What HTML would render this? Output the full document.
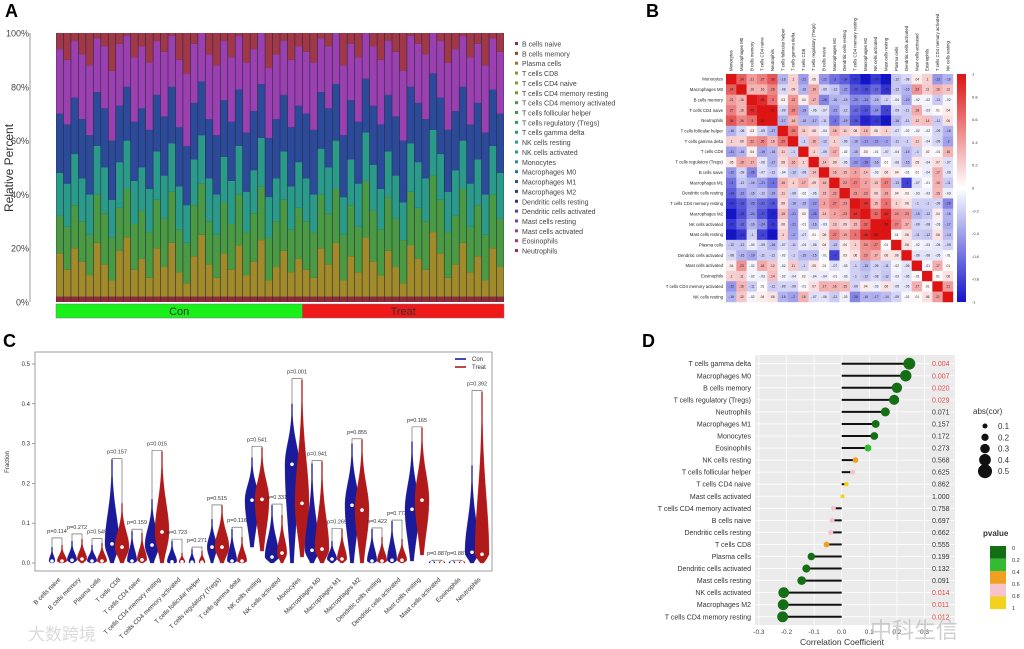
<!DOCTYPE html>
<html><head><meta charset="utf-8"><style>
html,body{margin:0;padding:0;background:#fff;}
svg{display:block;font-family:"Liberation Sans","Noto Sans CJK SC",sans-serif;}
</style></head><body>
<svg id="fig" width="1024" height="649" viewBox="0 0 1024 649">
<text x="5" y="17" font-size="18" font-weight="bold">A</text>
<text x="646" y="17" font-size="18" font-weight="bold">B</text>
<text x="3" y="347" font-size="18" font-weight="bold">C</text>
<text x="642" y="347" font-size="18" font-weight="bold">D</text>
<g id="pa"></g>
<g id="pb"></g>
<g id="pc"></g>
<g id="pd"></g>
<text x="870" y="638" font-size="22" fill="#bbb" opacity="0.7">中科生信</text>
<text x="28" y="640" font-size="17" fill="#ccc" opacity="0.7">大数跨境</text>
</svg>
<script>
const NS="http://www.w3.org/2000/svg";
function mk(p,tag,attrs,txt){const e=document.createElementNS(NS,tag);for(const k in attrs)e.setAttribute(k,attrs[k]);if(txt!==undefined)e.textContent=txt;p.appendChild(e);return e;}

/* ---------- Panel A data ---------- */
const aGroups=["Con","Treat"];
const aConCount=33;
const aB1=[18,12,20,15,10,22,14,8,19,24,12,16,9,20,13,22,11,7,17,25,14,9,18,12,21,10,15,23,8,13,19,11,16,12,9,20,14,22,8,17,11,24,15,10,19,13,7,21,16,12,26,18,9,14,22,11,17,8,20,13];
const aB2=[32,28,36,30,25,40,33,24,35,42,29,34,26,38,31,41,27,22,36,44,30,25,37,29,40,26,33,43,24,30,38,27,35,30,26,40,33,42,25,36,28,45,34,27,39,31,23,41,35,30,47,38,26,32,42,28,36,25,40,31];
const aB3=[48,44,55,46,40,58,50,38,52,60,45,50,42,56,47,59,43,36,53,62,46,40,54,45,58,41,49,61,39,46,56,43,52,46,40,57,50,60,39,53,44,63,51,42,56,47,37,59,52,46,64,55,41,49,60,44,53,40,58,48];
const aB4=[70,66,76,68,62,78,72,60,73,80,67,72,64,77,69,80,65,58,74,82,68,62,75,67,79,63,71,81,61,68,77,65,73,70,64,78,72,81,62,75,67,83,73,66,77,69,60,80,74,68,85,76,64,71,80,66,74,63,79,70];
const aB5=[94,90,97,92,88,98,95,86,96,99,91,95,89,97,93,99,90,85,96,100,92,88,97,91,99,89,94,100,87,92,97,90,95,93,89,98,95,100,88,96,91,100,95,90,97,93,86,99,96,92,100,97,89,94,99,91,96,88,98,93];
const aTicks=["0%","20%","40%","60%","80%","100%"];
const aLegend=["B cells naive","B cells memory","Plasma cells","T cells CD8","T cells CD4 naive","T cells CD4 memory resting","T cells CD4 memory activated","T cells follicular helper","T cells regulatory (Tregs)","T cells gamma delta","NK cells resting","NK cells activated","Monocytes","Macrophages M0","Macrophages M1","Macrophages M2","Dendritic cells resting","Dendritic cells activated","Mast cells resting","Mast cells activated","Eosinophils","Neutrophils"];
const aLegCol=["#8e2a4a","#9a4030","#9a7a2a","#96902a","#8a9a2a","#6a9a30","#4a9a3a","#3a9a48","#2e9a5e","#2a9a74","#2a9a8a","#2a98a0","#2a88a8","#2a70a8","#2a50a0","#2a3a98","#3a3098","#5a3aa8","#7a3aaa","#9a3aa8","#a03a80","#a03050"];
(function(){
const g=document.getElementById('pa');
const X0=56,X1=504,Y0=302,Y1=33;
const ys=v=>Y0-(v/100)*(Y0-Y1);
mk(g,'text',{x:13,y:168,'font-size':12,fill:'#333','text-anchor':'middle',transform:'rotate(-90 13 168)',},'Relative Percent');
mk(g,'line',{x1:30,y1:Y1,x2:30,y2:Y0,stroke:'#999','stroke-width':1,});
aTicks.forEach((t,i)=>{const e=mk(g,'text',{x:29,y:ys(i*20)+3.5,'font-size':9,fill:'#444','text-anchor':'end'},t);

});
const n=aB1.length,w=(X1-X0)/n;
mk(g,'rect',{x:X0,y:Y1,width:X1-X0,height:Y0-Y1,fill:'#2a2a3a'});
const cols=["#8e2a3a","#a08a2a","#4a9a44","#2a9a8a","#2c4a9a","#9a40b0","#a03848"];
for(let i=0;i<n;i++){
 const bnd=[0,2,aB1[i],aB2[i],aB3[i],aB4[i],aB5[i],100];
 for(let k=0;k<7;k++){
  const r=mk(g,'rect',{x:X0+i*w+0.3,y:ys(bnd[k+1]),width:w-0.6,height:Math.max(0,ys(bnd[k])-ys(bnd[k+1])),fill:cols[k]});
  
  
 }
}
const xs=X0+aConCount*w;
mk(g,'rect',{x:X0,y:304,width:xs-X0,height:14,fill:'#19f019',stroke:'#777','stroke-width':0.5,});
mk(g,'rect',{x:xs,y:304,width:X1-xs,height:14,fill:'#f01919',stroke:'#777','stroke-width':0.5,});
mk(g,'text',{x:(X0+xs)/2,y:315,'font-size':11,'text-anchor':'middle',fill:'#333',},aGroups[0]);
mk(g,'text',{x:(xs+X1)/2,y:315,'font-size':11,'text-anchor':'middle',fill:'#333',},aGroups[1]);
aLegend.forEach((t,i)=>{const y=44+i*9.86;
 const r=mk(g,'rect',{x:515,y:y-2,width:3,height:3,fill:aLegCol[i]});
 
 
 const e=mk(g,'text',{x:522,y:y+2.5,'font-size':7,fill:'#444'},t);
 
 });
})();

/* ---------- Panel B data ---------- */
const bLabels=["Monocytes","Macrophages M0","B cells memory","T cells CD4 naive","Neutrophils","T cells follicular helper","T cells gamma delta","T cells CD8","T cells regulatory (Tregs)","B cells naive","Macrophages M1","Dendritic cells resting","T cells CD4 memory resting","Macrophages M2","NK cells activated","Mast cells resting","Plasma cells","Dendritic cells activated","Mast cells activated","Eosinophils","T cells CD4 memory activated","NK cells resting"];
const bMatrix=[
[1,.34,.21,.27,.36,-.16,.10,-.21,.05,-.22,-.3,-.34,-.42,-.57,-.42,-.58,-.12,-.08,.04,.1,-.22,-.16],
[.34,1,.16,.16,.26,-.08,.09,-.16,.19,-.09,-.12,-.22,-.36,-.38,-.32,-.43,-.12,-.16,.23,.11,.16,.12],
[.21,.16,1,.45,.3,.03,.22,.04,.17,-.26,-.16,-.15,-.25,-.24,-.16,-.1,-.04,-.19,-.02,-.02,-.11,-.02],
[.27,.16,.45,1,.51,-.09,.26,-.19,-.06,-.07,-.21,-.12,-.32,-.37,-.24,-.4,-.09,-.11,.18,-.03,.01,.04],
[.36,.26,.3,.51,1,-.17,.16,-.16,-.17,-.11,-.3,-.19,-.36,-.47,-.42,-.58,-.16,-.11,.12,.14,-.11,.06],
[-.16,-.08,.03,-.09,-.17,1,.29,.11,.08,-.04,.16,.11,.08,.15,.06,.1,-.07,-.02,-.02,-.02,-.09,-.16],
[.1,.09,.22,.26,.16,.29,1,-.1,.16,-.12,.1,-.09,-.16,-.21,-.21,-.2,-.11,-.1,.11,-.04,-.09,-.2],
[-.21,-.16,.04,-.19,-.16,.11,-.1,1,.1,-.09,.17,-.02,-.15,.03,-.01,-.07,-.04,-.15,-.1,.02,-.01,.16],
[.05,.19,.17,-.06,-.17,.08,.16,.1,1,.14,.09,-.06,-.22,-.26,-.16,.01,-.06,-.15,.05,-.04,.07,-.07],
[-.22,-.09,-.26,-.07,-.11,-.04,-.12,-.09,.14,1,.16,.15,.2,.14,-.03,.06,.04,-.01,.01,-.04,.17,-.06],
[-.3,-.12,-.16,-.21,-.3,.16,.1,.17,.09,.16,1,.22,.27,.2,.13,.27,-.13,-.4,-.07,-.01,.16,-.11],
[-.34,-.22,-.15,-.12,-.19,.11,-.09,-.02,-.06,.15,.22,1,.23,.23,.09,.19,.04,.03,-.03,-.03,.15,-.03],
[-.42,-.36,-.25,-.32,-.36,.08,-.16,-.15,-.22,.2,.27,.23,1,.44,.15,.3,.1,.06,-.1,-.1,-.09,-.26],
[-.57,-.38,-.24,-.37,-.47,.15,-.21,.03,-.26,.14,.2,.23,.44,1,.32,.46,.24,.23,-.15,-.12,.04,-.16],
[-.42,-.32,-.16,-.24,-.42,.06,-.21,-.01,-.16,-.03,.13,.09,.15,.32,1,.56,.27,.17,-.09,-.08,-.03,-.17],
[-.58,-.43,-.1,-.4,-.58,.1,-.2,-.07,.01,.06,.27,.19,.3,.46,.56,1,.01,.06,-.11,-.12,.06,-.14],
[-.12,-.12,-.04,-.09,-.16,-.07,-.11,-.04,-.06,.04,-.13,.04,.1,.24,.27,.01,1,.06,-.02,-.03,-.05,-.09],
[-.08,-.16,-.19,-.11,-.11,-.02,-.1,-.15,-.15,-.01,-.4,.03,.06,.23,.17,.06,.06,1,-.06,-.06,-.05,-.01],
[.04,.23,-.02,.18,.12,-.02,.11,-.1,.05,.01,-.07,-.03,-.1,-.15,-.09,-.11,-.02,-.06,1,-.01,.17,.01],
[.1,.11,-.02,-.03,.14,-.02,-.04,.02,-.04,-.04,-.01,-.03,-.1,-.12,-.08,-.12,-.03,-.06,-.01,1,.01,.06],
[-.22,.16,-.11,.01,-.11,-.09,-.09,-.01,.07,.17,.16,.15,-.09,.04,-.03,.06,-.05,-.05,.17,.01,1,.21],
[-.16,.12,-.02,.04,.06,-.16,-.2,.16,-.07,-.06,-.11,-.03,-.26,-.16,-.17,-.14,-.09,-.01,.01,.06,.21,1]];
const bTicks=["1","0.8","0.6","0.4","0.2","0","-0.2","-0.4","-0.6","-0.8","-1"];
(function(){
const g=document.getElementById('pb');
const X0=726,Y0=74,N=bLabels.length,cw=(953-X0)/N,ch=(302-Y0)/N;
function col(v){v=Math.max(-1,Math.min(1,v));let r,gg,b;
 if(v>=0){const t=Math.min(1,v*2.0);r=255-(255-220)*t;gg=255-255*t*0.92;b=255-255*t*0.92;}
 else{const t=Math.min(1,-v*2.0);r=255-255*t*0.92;gg=255-255*t*0.92;b=255-(255-205)*t;}
 return `rgb(${r|0},${gg|0},${b|0})`;}
bMatrix.forEach((row,i)=>row.forEach((v,j)=>{
 const c=mk(g,'rect',{x:X0+j*cw,y:Y0+i*ch,width:cw+0.2,height:ch+0.2,fill:col(v)});
 
 
 if(i!==j){const t=mk(g,'text',{x:X0+j*cw+cw/2,y:Y0+i*ch+ch/2+1.2,'font-size':3.3,'text-anchor':'middle',fill:'#222'},(Math.round(v*100)/100).toString().replace('0.','.'));
 
 }
}));
bLabels.forEach((l,i)=>{
 const t=mk(g,'text',{x:X0-3,y:Y0+i*ch+ch/2+1.5,'font-size':4.3,'text-anchor':'end',fill:'#222'},l);
 
 
 const cx=X0+i*cw+cw/2+1.5;
 const c=mk(g,'text',{x:cx,y:Y0-3,'font-size':4.3,fill:'#222',transform:`rotate(-90 ${cx} ${Y0-3})`},l);
 
 
});
const defs=mk(g,'defs',{});
const lg=mk(defs,'linearGradient',{id:'cb',x1:0,y1:0,x2:0,y2:1});
mk(lg,'stop',{offset:'0',"stop-color":'#dc1414'});mk(lg,'stop',{offset:'0.5',"stop-color":'#ffffff'});mk(lg,'stop',{offset:'1',"stop-color":'#1414cc'});
mk(g,'rect',{x:957,y:Y0,width:9,height:228,fill:'url(#cb)',});
bTicks.forEach((t,i)=>{const e=mk(g,'text',{x:972,y:Y0+i*22.8+1.5,'font-size':4,fill:'#333'},t);
 
 });
})();

/* ---------- Panel C data ---------- */
const cCats=["B cells naive","B cells memory","Plasma cells","T cells CD8","T cells CD4 naive","T cells CD4 memory resting","T cells CD4 memory activated","T cells follicular helper","T cells regulatory (Tregs)","T cells gamma delta","NK cells resting","NK cells activated","Monocytes","Macrophages M0","Macrophages M1","Macrophages M2","Dendritic cells resting","Dendritic cells activated","Mast cells resting","Mast cells activated","Eosinophils","Neutrophils"];
const cConMax=[.04,.055,.045,.26,.08,.16,.055,.035,.11,.085,.265,.145,.40,.25,.055,.30,.085,.105,.305,.005,.005,.245];
const cConMin=[0,0,0,0,0,0,0,0,0,0,.04,0,0,0,0,0,0,0,.005,0,0,0];
const cConMed=[.005,.007,.005,.048,.005,.045,.003,.002,.04,.005,.158,.015,.248,.032,.01,.145,.005,.007,.135,.001,.001,.027];
const cTrtMax=[.045,.06,.05,.15,.075,.28,.025,.03,.145,.065,.29,.12,.46,.255,.085,.31,.065,.06,.34,.005,.005,.43];
const cTrtMin=[0,0,0,0,0,0,0,0,0,0,.03,0,.015,0,0,0,0,0,.02,0,0,0];
const cTrtMed=[.005,.01,.005,.04,.008,.078,.003,.002,.04,.005,.16,.025,.15,.035,.01,.133,.005,.007,.158,.001,.001,.022];
const cBracket=[.063,.073,.061,.262,.085,.283,.06,.04,.146,.09,.293,.148,.463,.257,.087,.312,.088,.108,.342,.007,.007,.433];
const cP=["p=0.114","p=0.272","p=0.549","p=0.157","p=0.159","p=0.015","p=0.723","p=0.271","p=0.515","p=0.116","p=0.541","p=0.331","p=0.001","p=0.941","p=0.269","p=0.855","p=0.422","p=0.773","p=0.165","p=0.887","p=0.887","p=0.392"];
const cTicks=[0,0.1,0.2,0.3,0.4,0.5];
(function(){
const g=document.getElementById('pc');
const ys=v=>563-v*398;
const cx=i=>57+i*20;
mk(g,'rect',{x:35,y:352,width:457,height:219,fill:'none',stroke:'#888','stroke-width':0.8,});
mk(g,'text',{x:9,y:462,'font-size':6,fill:'#333','text-anchor':'middle',transform:'rotate(-90 9 462)',},'Fraction');
cTicks.forEach(t=>{const y=ys(t);
 const l=mk(g,'line',{x1:32,y1:y,x2:35,y2:y,stroke:'#666','stroke-width':0.6});
 
 
 const e=mk(g,'text',{x:30,y:y+2,'font-size':6,fill:'#333','text-anchor':'end'},t.toFixed(1));
 
 });
function violin(x,mn,mx,md,fill){
 const hw=mx>0.12?7:(mx>0.04?4.8:3);
 const L=[],R=[];const steps=40;
 for(let k=0;k<=steps;k++){const v=mn+(mx-mn)*k/steps;let w;
  if(v<=md){const s=Math.max((md-mn)/1.2,0.005);w=hw*Math.exp(-Math.pow((v-md)/s,2));}
  else{const s=Math.max((mx-md)/2.0,0.005);w=hw*Math.exp(-Math.pow((v-md)/s,2));}
  w=Math.max(w,0.5);L.push([x-w,ys(v)]);R.unshift([x+w,ys(v)]);}
 const d='M'+L.concat(R).map(p=>p[0].toFixed(2)+','+p[1].toFixed(2)).join('L')+'Z';
 const p=mk(g,'path',{d:d,fill:fill,stroke:fill,'stroke-width':0.3});
 
 
 const c=mk(g,'circle',{cx:x,cy:ys(md),r:1.8,fill:'#fff'});
 
 
}
cCats.forEach((c,i)=>{const x=cx(i);
 violin(x-5,cConMin[i],cConMax[i],cConMed[i],'#1a1a9a');
 violin(x+5,cTrtMin[i],cTrtMax[i],cTrtMed[i],'#b01a1a');
 const by=ys(cBracket[i]);
 const br=mk(g,'path',{d:`M${x-5},${ys(cConMax[i])}L${x-5},${by}L${x+5},${by}L${x+5},${ys(cTrtMax[i])}`,fill:'none',stroke:'#555','stroke-width':0.6});
 
 
 const pt=mk(g,'text',{x:x,y:by-5,'font-size':5.5,fill:'#333','text-anchor':'middle'},cP[i]);
 
 
 const lx=x+4,ly=580;
 const xl=mk(g,'text',{x:lx,y:ly,'font-size':6.3,fill:'#333','text-anchor':'end',transform:`rotate(-45 ${lx} ${ly})`},c);
 
 
});
mk(g,'line',{x1:455,y1:359,x2:466,y2:359,stroke:'#1a1a9a','stroke-width':1.6,});
mk(g,'line',{x1:455,y1:367,x2:466,y2:367,stroke:'#b01a1a','stroke-width':1.6,});
mk(g,'text',{x:472,y:361,'font-size':6,fill:'#333',},'Con');
mk(g,'text',{x:472,y:369,'font-size':6,fill:'#333',},'Treat');
})();

/* ---------- Panel D data ---------- */
const dCats=["T cells gamma delta","Macrophages M0","B cells memory","T cells regulatory (Tregs)","Neutrophils","Macrophages M1","Monocytes","Eosinophils","NK cells resting","T cells follicular helper","T cells CD4 naive","Mast cells activated","T cells CD4 memory activated","B cells naive","Dendritic cells resting","T cells CD8","Plasma cells","Dendritic cells activated","Mast cells resting","NK cells activated","Macrophages M2","T cells CD4 memory resting"];
const dCor=[.245,.232,.2,.19,.158,.123,.118,.095,.05,.04,.017,.003,-.03,-.035,-.04,-.055,-.11,-.128,-.145,-.21,-.212,-.214];
const dP=[0.004,0.007,0.020,0.029,0.071,0.157,0.172,0.273,0.568,0.625,0.862,1.000,0.758,0.697,0.662,0.555,0.199,0.132,0.091,0.014,0.011,0.012];
const dTicks=[-0.3,-0.2,-0.1,0,0.1,0.2,0.3];
const dSizeLegend=[0.1,0.2,0.3,0.4,0.5];
const dPLegend=["0","0.2","0.4","0.6","0.8","1"];
(function(){
const g=document.getElementById('pd');
const xs=v=>841.7+v*276;
const ry=i=>363.7+i*12.05;
const pc=p=>p<0.2?'#146e14':p<0.4?'#33bb33':p<0.6?'#f0a020':p<0.8?'#f6c4cc':'#f2d21e';
const rad=a=>2+a*16;
mk(g,'rect',{x:755,y:355,width:200,height:270,fill:'#ebebeb',});
dTicks.forEach(t=>{const x=xs(t);
 const l=mk(g,'line',{x1:x,y1:355,x2:x,y2:625,stroke:'#fff','stroke-width':0.8});
 
 
 const e=mk(g,'text',{x:x,y:634,'font-size':6.5,fill:'#444','text-anchor':'middle'},t===0?'0.0':t.toFixed(1));
 
 });
dCats.forEach((c,i)=>{const y=ry(i);
 const gl=mk(g,'line',{x1:755,y1:y,x2:955,y2:y,stroke:'#fff','stroke-width':0.8});
 
 
 const e=mk(g,'text',{x:751,y:y+2.5,'font-size':7,fill:'#333','text-anchor':'end'},c);
 
 
 const s=mk(g,'line',{x1:xs(0),y1:y,x2:xs(dCor[i]),y2:y,stroke:'#111','stroke-width':2});
 
 
 const d=mk(g,'circle',{cx:xs(dCor[i]),cy:y,r:rad(Math.abs(dCor[i])),fill:pc(dP[i])});
 
 
 const p=mk(g,'text',{x:932,y:y+2.5,'font-size':7,fill:dP[i]<0.05?'#e04848':'#333'},dP[i].toFixed(3));
 
 
});
mk(g,'text',{x:842,y:645,'font-size':8.5,fill:'#333','text-anchor':'middle',},'Correlation Coefficient');
mk(g,'text',{x:973,y:414,'font-size':8,fill:'#333',},'abs(cor)');
dSizeLegend.forEach((v,i)=>{const y=426+i*11.3;
 const c=mk(g,'circle',{cx:985,cy:y,r:rad(v)*0.7,fill:'#111'});
 
 
 const t=mk(g,'text',{x:998,y:y+3,'font-size':8,fill:'#333'},v.toFixed(1));
 
 });
mk(g,'text',{x:983,y:536,'font-size':8,'font-weight':'bold',fill:'#333',},'pvalue');
['#146e14','#33bb33','#f0a020','#f6c4cc','#f2d21e'].forEach((c,i)=>{
 const r=mk(g,'rect',{x:990,y:546+i*12.6,width:16,height:12.7,fill:c});
 
 });
dPLegend.forEach((t,i)=>{const e=mk(g,'text',{x:1012,y:550+i*12,'font-size':5.5,fill:'#333'},t);
 
 });
})();
</script>
</body></html>
